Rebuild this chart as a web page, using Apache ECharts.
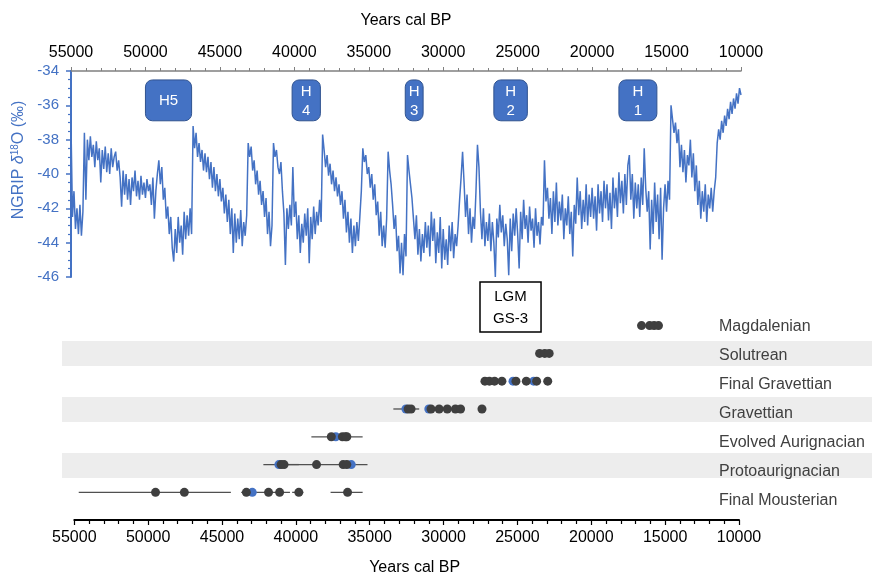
<!DOCTYPE html>
<html><head><meta charset="utf-8">
<script src="https://cdn.jsdelivr.net/npm/echarts@6/dist/echarts.min.js"></script>
<style>html,body{margin:0;padding:0;background:#fff}#c{width:872px;height:577px}</style>
</head><body><div id="c"></div>
<script>
// NGRIP d18O record, one value every 100 years starting at 55000 cal BP
const startYear = 55000;
const stepYears = 100;
const d18O = [
-37.2,-42.5,-41.0,-43.2,-42.0,-43.5,-41.8,-43.6,-42.2,-37.6,
-41.5,-38.0,-39.2,-37.8,-39.0,-38.3,-39.6,-38.1,-39.2,-38.5,
-40.5,-38.6,-39.7,-38.4,-39.9,-38.8,-40.0,-38.5,-39.6,-39.0,
-38.7,-39.8,-39.2,-40.2,-41.9,-39.8,-41.2,-40.0,-41.5,-40.3,
-41.8,-40.2,-41.0,-39.8,-41.3,-40.4,-41.5,-40.1,-41.2,-40.5,
-41.4,-40.3,-41.0,-40.6,-41.8,-40.2,-42.6,-41.0,-40.0,-39.2,
-40.6,-39.6,-41.5,-40.8,-42.6,-41.9,-43.5,-42.5,-44.3,-45.1,
-43.2,-44.6,-42.5,-44.0,-43.0,-44.7,-42.2,-43.8,-42.4,-43.6,
-42.0,-43.5,-37.2,-38.5,-37.6,-39.0,-38.2,-39.3,-38.6,-39.8,
-38.8,-39.9,-39.0,-40.3,-39.3,-40.8,-39.6,-41.0,-40.0,-41.3,
-40.3,-41.6,-40.8,-42.3,-41.2,-42.8,-41.5,-43.5,-42.0,-44.6,
-42.3,-44.0,-42.6,-43.8,-42.1,-44.2,-42.8,-43.6,-42.4,-38.2,
-39.0,-38.4,-39.8,-39.2,-40.6,-39.8,-41.2,-40.4,-41.8,-41.0,
-42.5,-41.4,-43.5,-42.2,-44.2,-43.0,-38.2,-39.0,-38.6,-39.6,
-40.0,-39.3,-41.0,-42.3,-45.3,-42.0,-43.2,-41.8,-43.0,-39.6,
-42.5,-41.6,-43.8,-42.4,-44.6,-42.9,-44.0,-42.3,-43.6,-42.0,
-45.2,-42.5,-43.8,-41.9,-43.5,-42.2,-43.0,-41.5,-42.8,-37.7,
-38.6,-39.6,-38.9,-40.1,-39.4,-40.6,-39.8,-41.0,-40.2,-41.3,
-40.6,-41.8,-41.0,-42.6,-41.5,-43.4,-42.2,-44.0,-42.6,-44.6,
-43.0,-44.2,-42.8,-43.9,-42.5,-41.0,-38.5,-39.3,-38.9,-40.0,
-39.6,-40.8,-40.0,-41.5,-40.6,-42.4,-41.6,-43.6,-42.2,-44.2,
-43.0,-44.3,-42.6,-38.7,-39.8,-40.6,-41.8,-43.2,-42.4,-44.5,
-43.6,-45.8,-44.0,-45.9,-43.5,-44.8,-38.9,-39.8,-40.6,-41.4,
-42.6,-43.8,-42.4,-44.7,-43.2,-45.1,-43.5,-44.6,-42.8,-44.3,
-43.0,-44.8,-42.2,-43.9,-42.6,-45.2,-43.4,-44.6,-42.5,-45.5,
-43.2,-45.0,-43.8,-45.3,-43.0,-44.5,-42.8,-44.9,-43.5,-44.2,
-43.0,-41.5,-40.2,-38.7,-40.5,-42.5,-41.2,-43.5,-42.0,-44.0,
-42.5,-43.2,-41.0,-38.3,-39.6,-42.2,-43.8,-42.0,-44.2,-42.8,
-43.9,-42.3,-44.5,-42.8,-44.0,-46.0,-42.6,-43.7,-41.8,-43.4,
-42.4,-44.2,-42.9,-43.8,-45.9,-42.6,-44.5,-42.3,-43.6,-42.0,
-43.5,-45.5,-42.2,-43.8,-41.5,-43.2,-42.4,-44.0,-41.9,-43.3,
-42.6,-44.3,-42.0,-43.6,-42.8,-44.1,-42.5,-43.0,-39.2,-41.6,
-40.8,-42.6,-41.4,-43.5,-41.0,-42.8,-40.5,-43.0,-41.6,-42.7,
-41.2,-43.8,-42.0,-43.0,-41.3,-43.5,-42.2,-44.8,-41.8,-42.9,
-40.2,-42.4,-41.0,-43.2,-41.5,-42.8,-40.6,-43.0,-41.2,-42.5,
-40.8,-42.6,-41.3,-43.3,-40.6,-42.3,-41.0,-42.8,-40.4,-42.0,
-40.6,-42.7,-41.1,-43.2,-40.2,-42.0,-40.8,-42.5,-39.9,-41.7,
-40.4,-42.3,-40.0,-41.8,-39.5,-38.9,-41.5,-40.0,-42.6,-40.5,
-42.0,-40.6,-42.5,-40.2,-41.8,-38.5,-40.8,-42.2,-41.0,-44.4,
-41.5,-43.5,-40.5,-42.8,-41.2,-43.8,-40.8,-45.0,-42.0,-40.6,
-42.2,-40.4,-41.5,-36.0,-36.8,-37.6,-37.0,-38.2,-37.4,-39.6,
-38.3,-39.9,-38.6,-40.5,-38.9,-39.5,-38.0,-40.2,-38.8,-41.0,
-39.5,-41.8,-40.4,-42.6,-41.0,-42.2,-40.6,-42.8,-41.2,-42.0,
-40.8,-42.2,-41.0,-40.2,-38.2,-37.4,-38.0,-36.9,-37.6,-36.6,
-37.2,-36.2,-36.8,-35.8,-36.5,-35.6,-36.2,-35.3,-35.9,-35.0,-35.4
];

// Heinrich events (start / end, cal BP)
const hLabels = ['H5', 'H\n4', 'H\n3', 'H\n2', 'H\n1'];
const hStart = [50000, 40150, 32550, 26600, 18200];
const hEnd   = [46900, 38250, 31350, 24350, 15650];

// LGM / GS-3 box span
const lgmLabel = 'LGM\nGS-3';
const lgmSpan = [27530, 23430];

// cultures (bottom to top)
const cultures = ['Final Mousterian', 'Protoaurignacian', 'Evolved Aurignacian', 'Gravettian', 'Final Gravettian', 'Solutrean', 'Magdalenian'];
const datesFinalMousterian   = [49500, 47550, 43350, 41850, 41100, 39800, 36500];
const datesProtoaurignacian  = [41000, 40800, 38600, 36800, 36550];
const datesEvolvedAurignacian= [37600, 36850, 36650, 36550];
const datesGravettian        = [32400, 32200, 30850, 30300, 29750, 29200, 28850, 27400];
const datesFinalGravettian   = [27200, 26900, 26550, 26050, 25100, 24400, 23700, 22950];
const datesSolutrean         = [23500, 23150, 22850];
const datesMagdalenian       = [16600, 16050, 15750, 15450];
// second (blue) dates
const blueFinalMousterian    = [42950];
const blueProtoaurignacian   = [41150, 36250];
const blueEvolvedAurignacian = [37300];
const blueGravettian         = [32550, 31000];
const blueFinalGravettian    = [25300, 23900];
// error ranges per culture [older, younger]
const errFinalMousterian  = [[54700, 44400], [43700, 40400], [40250, 39500], [37650, 35480]];
const errProtoaurignacian = [[42200, 35150], [41300, 39800]];
const errEvolvedAurignacian = [[38950, 35480]];
const errGravettian = [[33400, 31650]];
// alternating band pattern
const bandPattern = [0, 1, 0, 1, 0, 1, 0];

const darkSets = [datesFinalMousterian, datesProtoaurignacian, datesEvolvedAurignacian, datesGravettian, datesFinalGravettian, datesSolutrean, datesMagdalenian];
const blueSets = [blueFinalMousterian, blueProtoaurignacian, blueEvolvedAurignacian, blueGravettian, blueFinalGravettian, [], []];
const errSets = [errFinalMousterian, errProtoaurignacian, errEvolvedAurignacian, errGravettian, [], [], []];

const darkData = [], blueData = [], errData = [];
darkSets.forEach((arr, i) => arr.forEach(v => darkData.push([v, i])));
blueSets.forEach((arr, i) => arr.forEach(v => blueData.push([v, i])));
errSets.forEach((arr, i) => arr.forEach(r => errData.push([r[0], r[1], i])));

const lineData = d18O.map((v, i) => [startYear - i * stepYears, v]);

const BLUE = '#4472C4';
const FONT = '"Liberation Sans", Arial, sans-serif';

const chart = echarts.init(document.getElementById('c'), null, {renderer: 'canvas'});
chart.setOption({
  animation: false,
  textStyle: {fontFamily: FONT},
  grid: [
    {left: 71, right: 131, top: 71, height: 206},
    {left: 74.3, right: 133, top: 311.7, bottom: 56},
    {left: 62, right: 0, top: 311.7, height: 195.6},
    {left: 719, right: 0, top: 312.5, height: 202.7}
  ],
  xAxis: [
    {gridIndex: 0, type: 'value', position: 'top', min: 10000, max: 55000, interval: 5000, inverse: true,
     name: 'Years cal BP', nameLocation: 'middle', nameGap: 42,
     nameTextStyle: {color: '#000', fontSize: 16},
     axisLine: {show: true, onZero: false, lineStyle: {color: '#808080', width: 1.5}},
     axisTick: {length: 4, lineStyle: {color: '#808080'}},
     minorTick: {show: true, splitNumber: 5, length: 3, lineStyle: {color: '#808080'}},
     splitLine: {show: false}, minorSplitLine: {show: false},
     axisLabel: {color: '#000', fontSize: 16, margin: 10, formatter: v => String(v)}},
    {gridIndex: 1, type: 'value', position: 'bottom', min: 10000, max: 55000, interval: 5000, inverse: true,
     name: 'Years cal BP', nameLocation: 'middle', nameGap: 40,
     nameTextStyle: {color: '#000', fontSize: 16, padding: [0, 0, 0, 16]},
     axisLine: {show: true, onZero: false, lineStyle: {color: '#000', width: 2}},
     axisTick: {inside: false, length: 5, lineStyle: {color: '#000', width: 1.2}},
     minorTick: {show: true, splitNumber: 5, length: 4, lineStyle: {color: '#000', width: 1.2}},
     splitLine: {show: false}, minorSplitLine: {show: false},
     axisLabel: {color: '#000', fontSize: 16, margin: 10, formatter: v => String(v)}},
    {gridIndex: 2, type: 'value', min: 0, max: 1, show: false},
    {gridIndex: 3, type: 'value', min: 0, max: 1, show: false}
  ],
  yAxis: [
    {gridIndex: 0, type: 'value', min: -46, max: -34, interval: 2,
     name: 'NGRIP {i|δ}{s|18}O (‰)', nameLocation: 'middle', nameGap: 43,
     nameTextStyle: {color: BLUE, fontSize: 16, padding: [0, 0, 0, 28],
       rich: {i: {fontStyle: 'italic', color: BLUE, fontSize: 16, fontFamily: FONT},
              s: {fontSize: 10, color: BLUE, verticalAlign: 'top', fontFamily: FONT}}},
     axisLine: {show: true, onZero: false, lineStyle: {color: BLUE, width: 2}},
     axisTick: {show: true, length: 5, lineStyle: {color: BLUE, width: 1.5}},
     minorTick: {show: true, splitNumber: 4, length: 3, lineStyle: {color: BLUE, width: 1.2}},
     splitLine: {show: false}, minorSplitLine: {show: false},
     axisLabel: {color: BLUE, fontSize: 15, margin: 12}},
    // dot rows: value axis so the x axis can sit below the last row
    {gridIndex: 1, type: 'value', min: -0.994, max: 6.5, show: false},
    {gridIndex: 2, type: 'category', data: cultures, show: false},
    {gridIndex: 3, type: 'category', data: cultures, position: 'left',
     axisLine: {show: false}, axisTick: {show: false}, splitLine: {show: false},
     axisLabel: {inside: true, margin: 0, color: '#404040', fontSize: 16, align: 'left'}}
  ],
  series: [
    {type: 'bar', xAxisIndex: 2, yAxisIndex: 2, data: bandPattern, barWidth: 25,
     itemStyle: {color: '#EDEDED'}, silent: true, z: 0},
    {type: 'line', xAxisIndex: 0, yAxisIndex: 0, data: lineData, showSymbol: false, symbol: 'none',
     lineStyle: {color: BLUE, width: 1.5}, z: 2},
    {type: 'custom', xAxisIndex: 0, yAxisIndex: 0, z: 5,
     data: hStart.map((s, i) => [s, hEnd[i]]),
     renderItem: (params, api) => {
       const a = api.coord([api.value(0), -34.52]);
       const b = api.coord([api.value(1), -36.9]);
       return {type: 'group', children: [
         {type: 'rect', shape: {x: a[0], y: a[1], width: b[0] - a[0], height: b[1] - a[1], r: 7},
          style: {fill: BLUE, stroke: '#2F528F', lineWidth: 1}},
         {type: 'text', style: {x: (a[0] + b[0]) / 2, y: (a[1] + b[1]) / 2 + 1, text: hLabels[params.dataIndex],
          fill: '#fff', fontSize: 15, fontFamily: FONT, align: 'center', verticalAlign: 'middle', lineHeight: 19}}
       ]};
     }},
    {type: 'custom', xAxisIndex: 0, yAxisIndex: 0, z: 5, clip: false,
     data: [[lgmSpan[0], lgmSpan[1]]],
     renderItem: (params, api) => {
       const a = api.coord([api.value(0), -46.29]);
       const b = api.coord([api.value(1), -49.2]);
       return {type: 'group', children: [
         {type: 'rect', shape: {x: a[0], y: a[1], width: b[0] - a[0], height: b[1] - a[1]},
          style: {fill: '#fff', stroke: '#000', lineWidth: 1.5}},
         {type: 'text', style: {x: (a[0] + b[0]) / 2, y: (a[1] + b[1]) / 2 + 1, text: lgmLabel,
          fill: '#000', fontSize: 15, fontFamily: FONT, align: 'center', verticalAlign: 'middle', lineHeight: 22}}
       ]};
     }},
    {type: 'custom', xAxisIndex: 1, yAxisIndex: 1, z: 3, data: errData,
     encode: {x: [0, 1], y: 2},
     renderItem: (params, api) => {
       const a = api.coord([api.value(0), api.value(2)]);
       const b = api.coord([api.value(1), api.value(2)]);
       return {type: 'line', shape: {x1: a[0], y1: a[1], x2: b[0], y2: b[1]},
               style: {stroke: '#505050', lineWidth: 1.3}};
     }},
    {type: 'scatter', xAxisIndex: 1, yAxisIndex: 1, data: blueData, symbolSize: 9,
     itemStyle: {color: BLUE, opacity: 1}, z: 4},
    {type: 'scatter', xAxisIndex: 1, yAxisIndex: 1, data: darkData, symbolSize: 9,
     itemStyle: {color: '#3F3F3F', opacity: 1}, z: 5}
  ]
});
</script>
</body></html>
